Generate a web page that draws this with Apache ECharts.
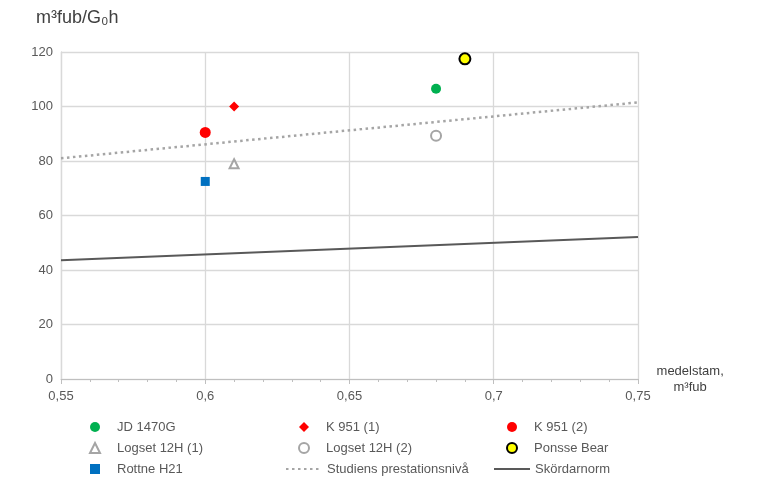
<!DOCTYPE html>
<html>
<head>
<meta charset="utf-8">
<script src="https://cdn.jsdelivr.net/npm/echarts@6/dist/echarts.min.js"></script>
<style>
  html, body { margin: 0; padding: 0; background: #fff; }
  #chart { width: 768px; height: 489px; }
</style>
</head>
<body>
<div id="chart"></div>
<script>
// data
var jd1470g = [[0.68, 106.5]];
var k951_1 = [[0.61, 100]];
var k951_2 = [[0.60, 90.5]];
var logset12h_1 = [[0.61, 79]];
var logset12h_2 = [[0.68, 89.3]];
var ponsseBear = [[0.69, 117.5]];
var rottneH21 = [[0.60, 72.5]];
var studiensNiva = [[0.55, 81], [0.75, 101.5]];
var skordarnorm = [[0.55, 43.6], [0.75, 52.1]];

var textColor = "#595959";
var fontName = "Liberation Sans";

var chart = echarts.init(document.getElementById("chart"));

function dot(name, data, symbol, size, fill, border) {
  return {
    name: name,
    type: "scatter",
    data: data,
    symbol: symbol,
    symbolSize: size,
    z: 5,
    itemStyle: {
      color: fill,
      borderColor: border || fill,
      borderWidth: border ? 2 : 0,
      opacity: 1,
    },
  };
}

var legendTop = 415;
var rowStep = 21;

// legend for the marker entries: small square icon box, text pushed right
function markerLegend(left, top, names) {
  return {
    orient: "vertical",
    left: left,
    top: top,
    itemWidth: 10,
    itemHeight: 10,
    itemGap: 7,
    selectedMode: false,
    data: names,
    textStyle: {
      color: textColor, fontSize: 13, fontFamily: fontName,
      lineHeight: 14, padding: [0, 0, 0, 12],
    },
  };
}

// legend for the line entries: wider icon, no marker dot
function lineLegend(left, top, name) {
  return {
    orient: "vertical",
    left: left,
    top: top,
    itemWidth: 36,
    itemHeight: 10,
    selectedMode: false,
    data: [{ name: name, itemStyle: { color: "rgba(0,0,0,0)", borderColor: "rgba(0,0,0,0)", borderWidth: 0 } }],
    textStyle: { color: textColor, fontSize: 13, fontFamily: fontName, lineHeight: 14 },
  };
}

var option = {
  animation: false,
  textStyle: { fontFamily: fontName },
  grid: { left: 61, right: 130, top: 52, bottom: 110 },
  legend: [
    markerLegend(84, legendTop, ["JD 1470G", "Logset 12H (1)", "Rottne H21"]),
    markerLegend(293, legendTop, ["K 951 (1)", "Logset 12H (2)"]),
    markerLegend(501, legendTop, ["K 951 (2)", "Ponsse Bear"]),
    lineLegend(280, legendTop + rowStep * 2, "Studiens prestationsnivå"),
    lineLegend(488, legendTop + rowStep * 2, "Skördarnorm"),
  ],
  xAxis: {
    type: "value",
    min: 0.55,
    max: 0.75,
    interval: 0.05,
    name: "medelstam,\nm³fub",
    nameLocation: "end",
    nameGap: 50,
    nameTextStyle: {
      color: "#404040",
      fontSize: 13,
      align: "center",
      verticalAlign: "middle",
      lineHeight: 16,
      padding: [18, 0, 0, 0],
    },
    axisLine: { show: true, lineStyle: { color: "#bfbfbf", width: 1 } },
    axisTick: { show: true, length: 5, lineStyle: { color: "#bfbfbf" } },
    minorTick: { show: true, splitNumber: 5, length: 3, lineStyle: { color: "#bfbfbf" } },
    splitLine: { show: true, lineStyle: { color: "#d9d9d9", width: 1.3 } },
    axisLabel: {
      color: textColor,
      fontSize: 13,
      margin: 11,
      formatter: function (v) {
        return String(Math.round(v * 100) / 100).replace(".", ",");
      },
    },
  },
  yAxis: {
    type: "value",
    min: 0,
    max: 120,
    interval: 20,
    name: "m³fub/G₀h",
    nameLocation: "end",
    nameGap: 25,
    nameTextStyle: {
      color: "#404040",
      fontSize: 18,
      align: "left",
      padding: [0, 0, 0, -25],
    },
    axisLine: { show: true, lineStyle: { color: "#d9d9d9", width: 1.3 } },
    axisTick: { show: false },
    splitLine: { show: true, lineStyle: { color: "#d9d9d9", width: 1.3 } },
    axisLabel: { color: textColor, fontSize: 13, margin: 8 },
  },
  series: [
    dot("JD 1470G", jd1470g, "circle", 10, "#00b050"),
    dot("K 951 (1)", k951_1, "diamond", 10, "#ff0000"),
    dot("K 951 (2)", k951_2, "circle", 11, "#ff0000"),
    dot("Logset 12H (1)", logset12h_1, "triangle", 9, "#ffffff", "#a5a5a5"),
    dot("Logset 12H (2)", logset12h_2, "circle", 10, "#ffffff", "#a5a5a5"),
    dot("Ponsse Bear", ponsseBear, "circle", 11, "#ffff00", "#000000"),
    dot("Rottne H21", rottneH21, "rect", 9, "#0070c0"),
    {
      name: "Studiens prestationsnivå",
      type: "line",
      data: studiensNiva,
      symbol: "none",
      z: 3,
      lineStyle: { color: "#a5a5a5", width: 2.5, type: [2.5, 3.5] },
      itemStyle: { color: "#a5a5a5" },
    },
    {
      name: "Skördarnorm",
      type: "line",
      data: skordarnorm,
      symbol: "none",
      z: 3,
      lineStyle: { color: "#595959", width: 2 },
      itemStyle: { color: "#595959" },
    },
  ],
};

chart.setOption(option);
</script>
</body>
</html>
